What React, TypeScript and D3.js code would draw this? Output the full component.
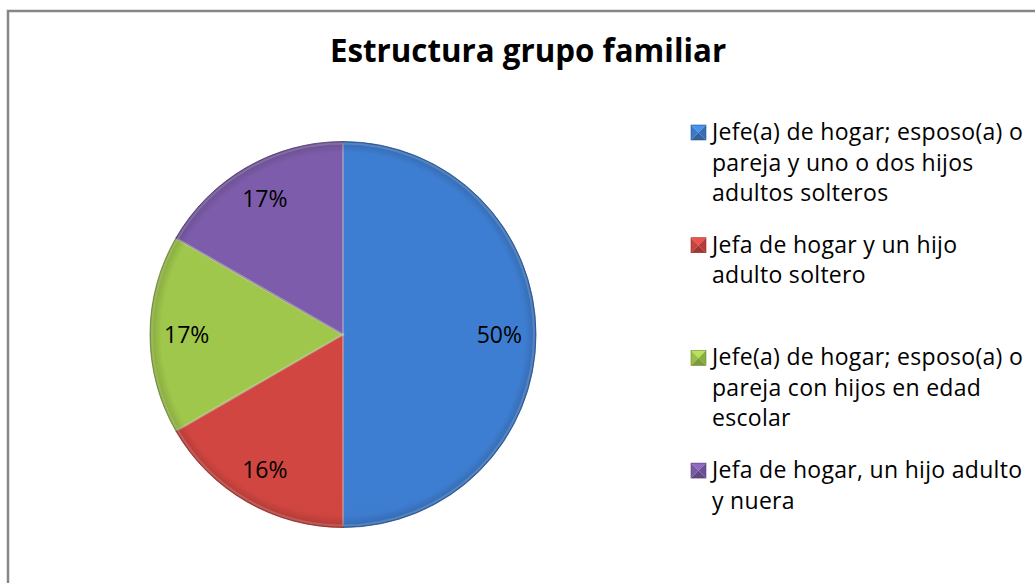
import React from "react";
import * as d3 from "d3";

const categories = [
  "Jefe(a) de hogar; esposo(a) o pareja y uno o dos hijos adultos solteros",
  "Jefa de hogar y un hijo adulto soltero",
  "Jefe(a) de hogar; esposo(a) o pareja con hijos en edad escolar",
  "Jefa de hogar, un hijo adulto y nuera",
];
const legendLines = [
  ["Jefe(a) de hogar; esposo(a) o", "pareja y uno o dos hijos", "adultos solteros"],
  ["Jefa de hogar y un hijo", "adulto soltero"],
  ["Jefe(a) de hogar; esposo(a) o", "pareja con hijos en edad", "escolar"],
  ["Jefa de hogar, un hijo adulto", "y nuera"],
];
const values = [50, 16.67, 16.67, 16.67];
const percentLabels = ["50%", "16%", "17%", "17%"];
const colors = ["#3b79c9", "#c9433e", "#98bf48", "#7859a4"];
const title = "Estructura grupo familiar";

export default function App() {
  const W = 1035;
  const H = 583;
  const cx = 343;
  const cy = 334.5;
  const r = 193;
  const pie = d3.pie<number>().sort(null).value((d) => d).startAngle(0).endAngle(2 * Math.PI);
  const arcs = pie(values);
  const arc = d3.arc<d3.PieArcDatum<number>>().innerRadius(0).outerRadius(r);
  const innerArc = d3.arc<d3.PieArcDatum<number>>().innerRadius(0).outerRadius(r - 2);
  const labelArc = d3.arc<d3.PieArcDatum<number>>().innerRadius(r * 0.81).outerRadius(r * 0.81);

  const legendX = 691;
  const textX = 712;
  const firstBase = 140;
  const slot = 112.7;
  const lineH = 30.5;
  const mk = 15;

  return (
    <svg
      width={W}
      height={H}
      style={{ position: "absolute", left: 0, top: 0, display: "block" }}
      fontFamily="'Open Sans', 'Noto Sans', sans-serif"
    >
      <defs>
        {colors.map((c, i) => {
          const col = d3.color(c)!;
          return (
            <linearGradient
              key={i}
              id={`g${i}`}
              gradientUnits="userSpaceOnUse"
              x1={0}
              y1={cy - r}
              x2={0}
              y2={cy + r}
            >
              <stop offset="0%" stopColor={col.brighter(0.12).formatHex()} />
              <stop offset="100%" stopColor={col.darker(0.3).formatHex()} />
            </linearGradient>
          );
        })}
        <radialGradient id="rim" cx={cx} cy={cy} r={r} gradientUnits="userSpaceOnUse">
          <stop offset="0.94" stopColor="#000" stopOpacity={0} />
          <stop offset="1" stopColor="#000" stopOpacity={0.16} />
        </radialGradient>
      </defs>
      <rect x={8} y={11} width={1040} height={600} fill="#fff" stroke="#878787" strokeWidth={2.5} />
      <text x={528} y={62} textAnchor="middle" fontWeight="bold" fontSize={31.3} fill="#000">
        {title}
      </text>
      <g transform={`translate(${cx},${cy})`}>
        {arcs.map((a, i) => (
          <path
            key={i}
            d={arc(a) || ""}
            fill={`url(#g${i})`}
            stroke={d3.color(colors[i])!.darker(0.9).formatHex()}
            strokeWidth={0.8}
          />
        ))}
        {arcs.map((a, i) => (
          <path key={"h" + i} d={innerArc(a) || ""} fill="none" stroke="#fff" strokeOpacity={0.2} strokeWidth={2} />
        ))}
        <circle r={r} fill="url(#rim)" transform={`translate(${-cx},${-cy})`} cx={cx} cy={cy} />
        {arcs.map((a, i) => {
          const [x, y] = labelArc.centroid(a);
          return (
            <text key={"l" + i} x={x} y={y} dy="0.36em" textAnchor="middle" fontSize={23} fill="#000">
              {percentLabels[i]}
            </text>
          );
        })}
      </g>
      <g>
        {categories.map((cat, i) => {
          const base = firstBase + i * slot;
          const col = d3.color(colors[i])!;
          const x0 = legendX;
          const y0 = base - mk;
          const cxm = x0 + mk / 2;
          const cym = y0 + mk / 2;
          return (
            <g key={cat}>
              <polygon points={`${x0},${y0} ${x0 + mk},${y0} ${cxm},${cym}`} fill={col.brighter(0.5).formatHex()} />
              <polygon points={`${x0},${y0} ${cxm},${cym} ${x0},${y0 + mk}`} fill={col.formatHex()} />
              <polygon points={`${x0 + mk},${y0} ${x0 + mk},${y0 + mk} ${cxm},${cym}`} fill={col.darker(0.3).formatHex()} />
              <polygon points={`${x0},${y0 + mk} ${x0 + mk},${y0 + mk} ${cxm},${cym}`} fill={col.darker(0.6).formatHex()} />
              <rect x={x0} y={y0} width={mk} height={mk} fill="none" stroke={col.darker(0.9).formatHex()} strokeWidth={0.6} />
              {legendLines[i].map((ln, j) => (
                <text key={j} x={textX} y={base + j * lineH} fontSize={23} letterSpacing={0.3} fill="#000">
                  {ln}
                </text>
              ))}
            </g>
          );
        })}
      </g>
    </svg>
  );
}
